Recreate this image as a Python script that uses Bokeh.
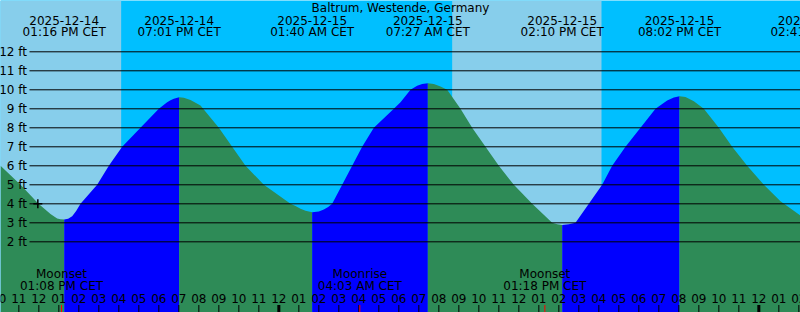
import math
import pandas as pd
from bokeh.plotting import figure
from bokeh.models import Range1d
from bokeh.core.properties import value
from bokeh.embed import file_html
from bokeh.resources import INLINE

TITLE = "Baltrum, Westende, Germany"
TZ = "CET"
REF = pd.Timestamp("2025-12-15 00:00")
VIEW_START = "2025-12-14 10:05"
VIEW_END = "2025-12-16 02:05"

# tide extremes
extreme_times = ["2025-12-14 13:16", "2025-12-14 19:01", "2025-12-15 01:40",
                 "2025-12-15 07:27", "2025-12-15 14:10", "2025-12-15 20:02",
                 "2025-12-16 02:41"]
extreme_heights = [3.17, 9.61, 3.55, 10.35, 2.88, 9.66, 3.0]
extreme_kinds = ["low", "high", "low", "high", "low", "high", "low"]

# tide curve
curve_times = [
    "2025-12-14 10:05", "2025-12-14 11:05", "2025-12-14 11:59", "2025-12-14 12:35",
    "2025-12-14 12:55", "2025-12-14 13:05", "2025-12-14 13:28", "2025-12-14 13:40",
    "2025-12-14 13:52", "2025-12-14 14:05", "2025-12-14 14:55",
    "2025-12-14 15:30", "2025-12-14 16:10", "2025-12-14 17:05", "2025-12-14 18:00",
    "2025-12-14 18:25", "2025-12-14 18:35", "2025-12-14 18:45", "2025-12-14 19:15",
    "2025-12-14 19:35", "2025-12-14 20:05",
    "2025-12-14 21:00", "2025-12-14 21:40", "2025-12-14 22:20", "2025-12-14 23:15",
    "2025-12-15 00:35", "2025-12-15 00:50", "2025-12-15 01:05", "2025-12-15 01:20",
    "2025-12-15 02:00", "2025-12-15 02:15", "2025-12-15 02:28", "2025-12-15 02:40",
    "2025-12-15 03:10", "2025-12-15 03:40", "2025-12-15 04:10", "2025-12-15 04:45",
    "2025-12-15 05:45", "2025-12-15 06:05", "2025-12-15 06:35", "2025-12-15 06:55",
    "2025-12-15 07:10", "2025-12-15 07:45",
    "2025-12-15 08:05", "2025-12-15 08:25", "2025-12-15 09:05", "2025-12-15 09:40",
    "2025-12-15 10:20", "2025-12-15 11:00", "2025-12-15 11:45", "2025-12-15 12:40",
    "2025-12-15 13:40", "2025-12-15 13:55", "2025-12-15 14:30", "2025-12-15 14:50",
    "2025-12-15 15:30", "2025-12-15 16:10", "2025-12-15 16:40", "2025-12-15 17:20",
    "2025-12-15 18:05", "2025-12-15 18:50", "2025-12-15 19:25", "2025-12-15 19:45",
    "2025-12-15 20:20", "2025-12-15 20:45",
    "2025-12-15 21:15", "2025-12-15 22:00", "2025-12-15 22:40", "2025-12-15 23:25",
    "2025-12-16 00:15", "2025-12-16 01:05", "2025-12-16 02:05",
]
curve_heights = [
    6.0, 5.0, 4.0, 3.47,
    3.23, 3.19, 3.22, 3.35,
    3.62, 4.0, 5.0,
    6.0, 7.0, 8.0, 9.0,
    9.35, 9.45, 9.53, 9.58,
    9.47, 9.17,
    8.0, 7.0, 6.0, 5.0,
    4.0, 3.88, 3.74, 3.63,
    3.6, 3.7, 3.83, 4.0,
    5.0, 6.0, 7.0, 8.0,
    9.0, 9.35, 10.0, 10.22,
    10.3, 10.3,
    10.17, 10.0, 9.0, 8.0,
    7.0, 6.0, 5.0, 4.0,
    3.0, 2.93, 2.93, 3.0,
    4.0, 5.0, 6.0, 7.0,
    8.0, 9.0, 9.44, 9.6,
    9.62, 9.4,
    9.0, 8.0, 7.0, 6.0,
    5.0, 4.14, 3.38,
]

# daylight intervals
sunrise_times = ["2025-12-14 08:39", "2025-12-15 08:40"]
sunset_times = ["2025-12-14 16:07", "2025-12-15 16:08"]

# moon events
moon_names = ["Moonset", "Moonrise", "Moonset"]
moon_times = ["2025-12-14 13:08", "2025-12-15 04:03", "2025-12-15 13:18"]

# current point
now_time = "2025-12-14 11:57"
now_height = 4.0

grid_feet = [2, 3, 4, 5, 6, 7, 8, 9, 10, 11, 12]

FONT = "DejaVu Sans"
W, H = 800, 312
Y0, Y1 = -1.72, 14.70
C_DAY = "#87CEEB"
C_NIGHT = "#00BFFF"
C_RISE = "#0000FF"
C_FALL = "#2E8B57"


def hrs(ts):
    return [(pd.Timestamp(t) - REF) / pd.Timedelta(hours=1) for t in ts]


X0 = hrs([VIEW_START])[0]
X1 = hrs([VIEW_END])[0]
PX_X = (X1 - X0) / W


def fy(py):
    return Y1 - py * (Y1 - Y0) / H


def fx(px):
    return X0 + px * PX_X


p = figure(width=W, height=H, x_range=Range1d(X0, X1), y_range=Range1d(Y0, Y1),
           output_backend="svg", toolbar_location=None, min_border=0,
           background_fill_color=C_NIGHT, border_fill_color=C_NIGHT)
p.axis.visible = False
p.grid.visible = False
p.outline_line_color = None

# daylight
p.quad(left=hrs(sunrise_times), right=hrs(sunset_times), bottom=Y0, top=Y1,
       fill_color=C_DAY, line_color=None)

# curve fill, split at extremes (rising = blue, falling = green)
ext_x = hrs(extreme_times)
cx = hrs(curve_times)
pts = sorted(list(zip(cx, curve_heights)) + list(zip(ext_x, extreme_heights)))
bounds = [pts[0][0] - 1] + ext_x + [pts[-1][0] + 1]
kinds = extreme_kinds + ["high" if extreme_kinds[-1] == "low" else "low"]
for i in range(len(bounds) - 1):
    a, b = bounds[i], bounds[i + 1]
    seg = [(x, y) for x, y in pts if a <= x <= b]
    if len(seg) < 2:
        continue
    color = C_RISE if kinds[i] == "high" else C_FALL
    p.varea(x=[s[0] for s in seg], y1=Y0, y2=[s[1] for s in seg],
            fill_color=color)

# grid lines and labels
p.segment(x0=fx(29), x1=X1, y0=grid_feet, y1=grid_feet, line_color="black",
          line_width=1)
p.text(x=fx(26.5), y=grid_feet, text=[f"{g} ft" for g in grid_feet],
       text_align="right", text_baseline="middle", text_color="black",
       text_font=value(FONT), text_font_size=value("12px"))

# title
p.text(x=[(X0 + X1) / 2], y=[fy(7.5)], text=[TITLE], text_align="center",
       text_baseline="middle", text_font=value(FONT),
       text_font_size=value("12px"), text_color="black")

# extreme labels
ets = [pd.Timestamp(t) for t in extreme_times]
p.text(x=ext_x, y=fy(19.5), text=[t.strftime("%Y-%m-%d") for t in ets],
       text_align="center", text_baseline="middle", text_font=value(FONT),
       text_font_size=value("12px"), text_color="black")
p.text(x=ext_x, y=fy(31), text=[t.strftime("%I:%M %p ") + TZ for t in ets],
       text_align="center", text_baseline="middle", text_font=value(FONT),
       text_font_size=value("12px"), text_color="black")

# moon labels
mx = hrs(moon_times)
mts = [pd.Timestamp(t) for t in moon_times]
p.text(x=mx, y=fy(273), text=moon_names, text_align="center",
       text_baseline="middle", text_font=value(FONT),
       text_font_size=value("12px"), text_color="black")
p.text(x=mx, y=fy(285), text=[t.strftime("%I:%M %p ") + TZ for t in mts],
       text_align="center", text_baseline="middle", text_font=value(FONT),
       text_font_size=value("12px"), text_color="black")

# hour ticks and labels
hours = list(range(math.floor(X0), math.ceil(X1) + 1))
hlabels = [(REF + pd.Timedelta(hours=h)).strftime("%I") for h in hours]
p.text(x=hours, y=fy(297.5), text=hlabels, text_align="center",
       text_baseline="middle", text_font=value(FONT),
       text_font_size=value("12px"), text_color="black")
normal = [h for h in hours if h % 24 != 0]
midn = [h for h in hours if h % 24 == 0]
p.segment(x0=normal, x1=normal, y0=fy(304.5), y1=Y0, line_color="black",
          line_width=1)
p.segment(x0=midn, x1=midn, y0=fy(304.5), y1=Y0, line_color="black",
          line_width=3)
p.segment(x0=mx, x1=mx, y0=fy(304.5), y1=Y0, line_color="red", line_width=1)

# current point
p.scatter(x=hrs([now_time]), y=[now_height], marker="cross", size=9,
          line_width=1.5, line_color="black")

open("out.html", "w").write(file_html(p, INLINE))
